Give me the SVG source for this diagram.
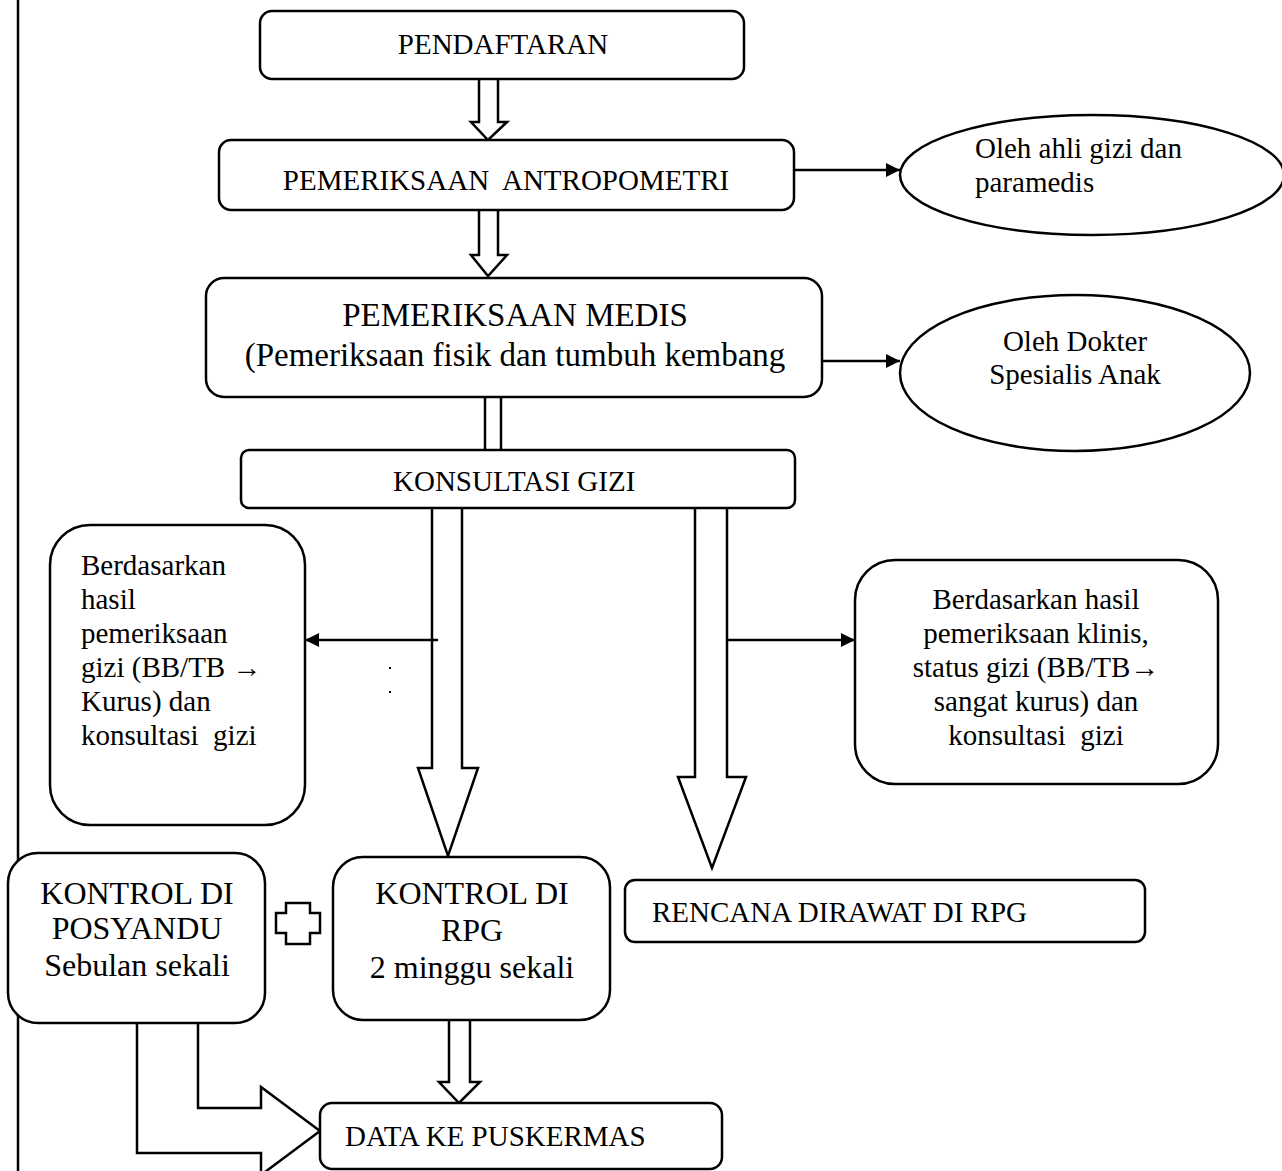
<svg xmlns="http://www.w3.org/2000/svg" width="1282" height="1171" viewBox="0 0 1282 1171">
<defs>
<marker id="arr" viewBox="0 0 14 14" refX="14" refY="7" markerWidth="14" markerHeight="14" markerUnits="userSpaceOnUse" orient="auto">
<path d="M0,0 L14,7 L0,14 Z" fill="#000"/>
</marker>
</defs>
<style>
.box{fill:#fff;stroke:#000;stroke-width:2.5}
.ln{fill:none;stroke:#000;stroke-width:2.5}
.big{fill:#fff;stroke:#000;stroke-width:2.5;stroke-linejoin:miter}
text{font-family:"Liberation Serif","Times New Roman",serif;fill:#000;font-size:29px}
.c{text-anchor:middle}
.l32{font-size:32px}
.l33{font-size:33px}
</style>
<rect width="1282" height="1171" fill="#fff"/>
<line x1="18" y1="0" x2="18" y2="1171" class="ln"/>

<g id="connectors">
<path class="big" d="M479,79 L479,122 L471,122 L488,140 L507,122 L498,122 L498,79"/>
<path class="big" d="M479,210 L479,255 L471,255 L488,276 L507,255 L498,255 L498,210"/>
<line x1="485" y1="397" x2="485" y2="450" class="ln"/>
<line x1="501" y1="397" x2="501" y2="450" class="ln"/>
<path class="big" d="M432,508 L432,768 L418,768 L448,856 L478,768 L462,768 L462,508"/>
<path class="big" d="M695,508 L695,777 L678,777 L712,868 L746,777 L727,777 L727,508"/>
<path class="big" d="M449,1021 L449,1082 L439,1082 L459,1103 L480,1082 L470,1082 L470,1021"/>
<path class="big" d="M198,1023 L198,1108 L261,1108 L261,1087 L320,1131 L261,1175 L261,1153 L137,1153 L137,1023"/>
<line x1="794" y1="170" x2="900" y2="170" class="ln" marker-end="url(#arr)"/>
<line x1="822" y1="361" x2="900" y2="361" class="ln" marker-end="url(#arr)"/>
<line x1="438" y1="640" x2="305" y2="640" class="ln" marker-end="url(#arr)"/>
<line x1="727" y1="640" x2="855" y2="640" class="ln" marker-end="url(#arr)"/>
<rect x="389" y="667" width="2" height="2" fill="#000"/>
<rect x="389" y="691" width="2" height="2" fill="#000"/>
</g>

<g id="pendaftaran">
<rect class="box" x="260" y="11" width="484" height="68" rx="12"/>
<text class="c" x="503" y="54">PENDAFTARAN</text>
</g>
<g id="antropometri">
<rect class="box" x="219" y="140" width="575" height="70" rx="12"/>
<text class="c" x="506" y="190" xml:space="preserve">PEMERIKSAAN  ANTROPOMETRI</text>
</g>
<g id="ellipse1">
<ellipse class="box" cx="1092" cy="175" rx="192" ry="60"/>
<text x="975" y="158">Oleh ahli gizi dan</text>
<text x="975" y="192">paramedis</text>
</g>
<g id="medis">
<rect class="box" x="206" y="278" width="616" height="119" rx="18"/>
<text class="c l33" x="515" y="326">PEMERIKSAAN MEDIS</text>
<text class="c l33" x="515" y="366">(Pemeriksaan fisik dan tumbuh kembang</text>
</g>
<g id="ellipse2">
<ellipse class="box" cx="1075" cy="373" rx="175" ry="78"/>
<text class="c" x="1075" y="351">Oleh Dokter</text>
<text class="c" x="1075" y="384">Spesialis Anak</text>
</g>
<g id="konsultasi">
<rect class="box" x="241" y="450" width="554" height="58" rx="8"/>
<text x="393" y="491">KONSULTASI GIZI</text>
</g>
<g id="kurus">
<rect class="box" x="50" y="525" width="255" height="300" rx="40"/>
<text x="81" y="575">Berdasarkan</text>
<text x="81" y="609">hasil</text>
<text x="81" y="643">pemeriksaan</text>
<text x="81" y="677">gizi (BB/TB →</text>
<text x="81" y="711">Kurus) dan</text>
<text x="81" y="745" xml:space="preserve">konsultasi  gizi</text>
</g>
<g id="sangatkurus">
<rect class="box" x="855" y="560" width="363" height="224" rx="40"/>
<text class="c" x="1036" y="609">Berdasarkan hasil</text>
<text class="c" x="1036" y="643">pemeriksaan klinis,</text>
<text class="c" x="1036" y="677">status gizi (BB/TB→</text>
<text class="c" x="1036" y="711">sangat kurus) dan</text>
<text class="c" x="1036" y="745" xml:space="preserve">konsultasi  gizi</text>
</g>
<g id="posyandu">
<rect class="box" x="8" y="853" width="257" height="170" rx="30"/>
<text class="c l32" x="137" y="904">KONTROL DI</text>
<text class="c l32" x="137" y="939">POSYANDU</text>
<text class="c l32" x="137" y="976">Sebulan sekali</text>
</g>
<g id="plus">
<path class="box" d="M286,903 L310,903 L310,913 L320,913 L320,933 L310,933 L310,944 L286,944 L286,933 L276,933 L276,913 L286,913 Z"/>
</g>
<g id="rpg">
<rect class="box" x="333" y="857" width="277" height="163" rx="30"/>
<text class="c l32" x="472" y="904">KONTROL DI</text>
<text class="c l32" x="472" y="941">RPG</text>
<text class="c l32" x="472" y="978">2 minggu sekali</text>
</g>
<g id="rencana">
<rect class="box" x="625" y="880" width="520" height="62" rx="10"/>
<text x="652" y="922">RENCANA DIRAWAT DI RPG</text>
</g>
<g id="data">
<rect class="box" x="320" y="1103" width="402" height="66" rx="12"/>
<text x="345" y="1146">DATA KE PUSKERMAS</text>
</g>
</svg>
